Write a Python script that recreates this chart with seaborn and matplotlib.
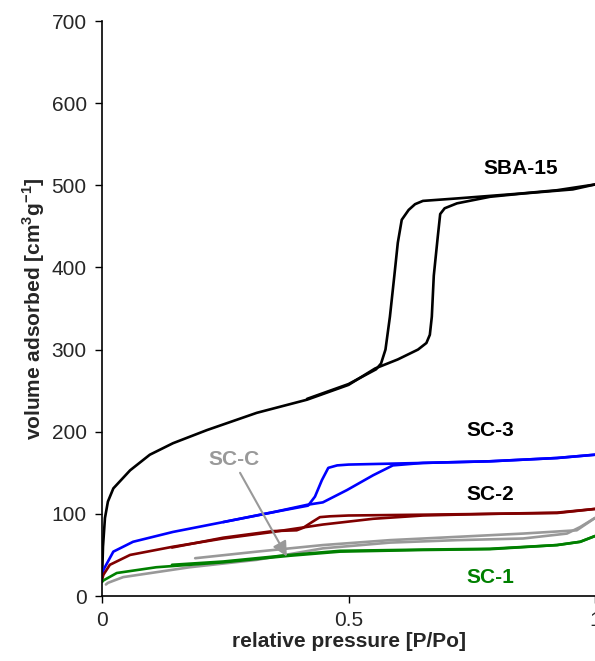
import matplotlib
matplotlib.use("Agg")
import matplotlib.pyplot as plt
import seaborn as sns
import numpy as np

# ---- data ----
sba_ads_x = [0, 0.002, 0.006, 0.012, 0.023, 0.057, 0.097, 0.144, 0.213, 0.314, 0.416, 0.5, 0.554, 0.6, 0.641, 0.658, 0.665, 0.669, 0.673, 0.681, 0.686, 0.695, 0.72, 0.787, 0.854, 0.955, 1.0]
sba_ads_y = [18, 60, 95, 115, 131, 153, 172, 186, 202, 223, 239, 257, 277, 288, 300, 308, 318, 340, 390, 437, 465, 472, 478, 486, 490, 495, 501]
sba_des_x = [1.0, 0.923, 0.85, 0.72, 0.651, 0.635, 0.622, 0.608, 0.600, 0.593, 0.584, 0.575, 0.566, 0.556, 0.5, 0.416]
sba_des_y = [501, 494, 490, 484, 481, 477, 470, 458, 430, 390, 340, 300, 283, 276, 258, 240]

sc3_ads_x = [0, 0.003, 0.023, 0.063, 0.144, 0.246, 0.347, 0.416, 0.448, 0.497, 0.55, 0.59, 0.651, 0.787, 0.923, 1.0]
sc3_ads_y = [22, 32, 54, 66, 78, 90, 102, 111, 114, 129, 147, 159, 162, 164, 168, 172]
sc3_des_x = [1.0, 0.923, 0.787, 0.651, 0.5, 0.477, 0.459, 0.446, 0.432, 0.418, 0.347, 0.246]
sc3_des_y = [172, 168, 164, 162, 160, 159, 156, 141, 121, 110, 102, 90]

sc2_ads_x = [0, 0.003, 0.016, 0.057, 0.144, 0.246, 0.347, 0.448, 0.55, 0.651, 0.787, 0.923, 1.0]
sc2_ads_y = [20, 26, 38, 50, 60, 70, 78, 87, 94, 98, 100, 101, 106]
sc2_des_x = [1.0, 0.923, 0.787, 0.651, 0.5, 0.462, 0.442, 0.426, 0.408, 0.395, 0.347, 0.246, 0.142]
sc2_des_y = [106, 101.5, 100, 99, 98, 97, 96, 90, 83, 80, 79, 71, 59]

sc1_ads_x = [0, 0.003, 0.03, 0.11, 0.246, 0.381, 0.483, 0.651, 0.787, 0.923, 0.97, 1.0]
sc1_ads_y = [17, 19, 28, 35, 41, 49, 54, 56, 57, 62, 66, 73]
sc1_des_x = [1.0, 0.97, 0.923, 0.787, 0.651, 0.483, 0.381, 0.246, 0.142]
sc1_des_y = [73, 66, 62, 57.5, 56.5, 55, 50, 42, 38]

scc_ads_x = [0.008, 0.012, 0.043, 0.178, 0.314, 0.448, 0.584, 0.72, 0.854, 0.943, 0.97, 1.0]
scc_ads_y = [14, 16, 23, 35, 44, 58, 65, 68, 70, 76, 84, 95]
scc_des_x = [1.0, 0.963, 0.854, 0.72, 0.584, 0.448, 0.314, 0.189]
scc_des_y = [95, 80, 76, 72, 68, 62, 54, 46]

labels = ["SBA-15", "SC-3", "SC-2", "SC-1", "SC-C"]
label_x = [0.773, 0.740, 0.740, 0.740, 0.215]
label_y = [521, 202, 124, 22, 166]

sns.set_style("ticks")
plt.rcParams["font.family"] = ["Liberation Sans", "DejaVu Sans"]
plt.rcParams["mathtext.fontset"] = "custom"
plt.rcParams["mathtext.rm"] = "Liberation Sans:bold"
plt.rcParams["mathtext.bf"] = "Liberation Sans:bold"

fig = plt.figure(figsize=(5.95, 6.61), dpi=100)
ax = fig.add_axes([102 / 595, 65 / 661, 493 / 595, 575 / 661])

series = [
    (sba_ads_x, sba_ads_y, sba_des_x, sba_des_y, "black"),
    (sc3_ads_x, sc3_ads_y, sc3_des_x, sc3_des_y, "#0000FF"),
    (sc2_ads_x, sc2_ads_y, sc2_des_x, sc2_des_y, "#800000"),
    (scc_ads_x, scc_ads_y, scc_des_x, scc_des_y, "#999999"),
    (sc1_ads_x, sc1_ads_y, sc1_des_x, sc1_des_y, "#008000"),
]
for ax_x, ax_y, dx, dy, c in series:
    sns.lineplot(x=ax_x, y=ax_y, sort=False, estimator=None, color=c, lw=1.9, ax=ax)
    sns.lineplot(x=dx, y=dy, sort=False, estimator=None, color=c, lw=1.9, ax=ax)

label_colors = ["black", "black", "black", "#008000", "#999999"]
for t, x, y, c in zip(labels, label_x, label_y, label_colors):
    ax.text(x, y, t, color=c, fontsize=15, fontweight="bold", ha="left", va="center")

ax.annotate("", xy=(0.375, 48), xytext=(0.28, 150),
            arrowprops=dict(arrowstyle="-|>", color="#999999", lw=1.5,
                            mutation_scale=22, shrinkA=0, shrinkB=0))

ax.set_xlim(0, 1)
ax.set_ylim(0, 700)
ax.set_xticks([0, 0.5, 1])
ax.set_xticklabels(["0", "0.5", "1"])
ax.set_yticks(range(0, 701, 100))
ax.tick_params(axis="both", labelsize=15, length=5, width=1, direction="out", color="black")
ax.tick_params(axis="x", pad=6)
ax.tick_params(axis="y", pad=6)
for s in ["top", "right"]:
    ax.spines[s].set_visible(False)
for s in ["left", "bottom"]:
    ax.spines[s].set_color("black")
    ax.spines[s].set_linewidth(1.2)
ax.set_xlabel("relative pressure [P/Po]", fontsize=15, fontweight="bold", labelpad=1)
ax.set_ylabel(r"volume adsorbed [cm$^{3}$g$^{-1}$]", fontsize=15, fontweight="bold", labelpad=3)

fig.savefig("out.png", dpi=100)
